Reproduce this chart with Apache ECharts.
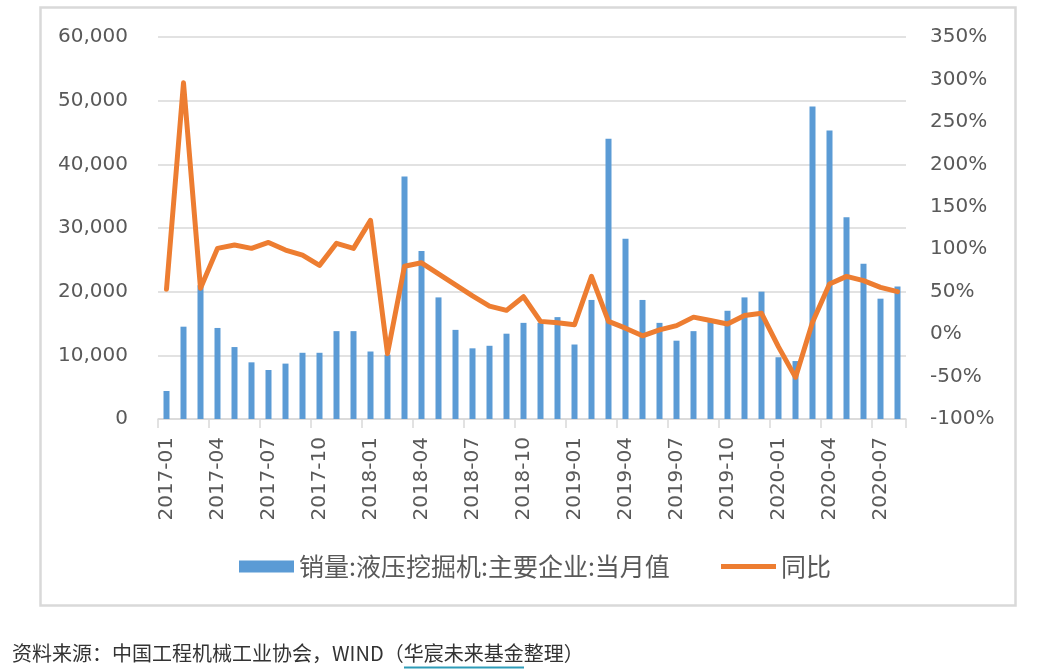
<!DOCTYPE html>
<html>
<head>
<meta charset="utf-8">
<script src="https://cdn.jsdelivr.net/npm/echarts@6/dist/echarts.min.js"></script>
<style>
html,body{margin:0;padding:0;background:#fff;}
#chart{width:1040px;height:669px;}
</style>
</head>
<body>
<div id="chart"></div>
<script>
var categories = ['2017-01','2017-02','2017-03','2017-04','2017-05','2017-06','2017-07','2017-08','2017-09','2017-10','2017-11','2017-12',
'2018-01','2018-02','2018-03','2018-04','2018-05','2018-06','2018-07','2018-08','2018-09','2018-10','2018-11','2018-12',
'2019-01','2019-02','2019-03','2019-04','2019-05','2019-06','2019-07','2019-08','2019-09','2019-10','2019-11','2019-12',
'2020-01','2020-02','2020-03','2020-04','2020-05','2020-06','2020-07','2020-08'];
var sales = [4400,14500,21000,14300,11300,8900,7700,8700,10400,10400,13800,13800,
10600,10100,38100,26400,19100,14000,11100,11500,13400,15100,15100,16000,
11700,18700,44000,28300,18700,15100,12300,13800,15400,17000,19100,20000,
9700,9100,49100,45300,31700,24400,18900,20800];
var yoy = [53,296,54,101,105,101,108,99,93,81,107,101,
134,-23,80,84,71,58,45,33,28,44,15,13.5,
11,68,15,7,-2,5,10,20,16,12,22,24.5,
-15,-51,14,59,68,63,55,50];
var seriesNames = ['销量:液压挖掘机:主要企业:当月值','同比'];
var sourceText = '资料来源：中国工程机械工业协会，WIND（华宸未来基金整理）';

var chart = echarts.init(document.getElementById('chart'));
var axisFont = {color:'#595959', fontSize:20, fontFamily:'DejaVu Sans'};
chart.setOption({
  animation:false,
  backgroundColor:'#fff',
  grid:{left:158, right:134, top:37, bottom:250},
  legend:[{
    data:[seriesNames[0]], left:234, top:549, itemWidth:55, itemHeight:12, icon:'rect',
    textStyle:{color:'#595959', fontSize:25, fontFamily:'Noto Sans CJK SC'}, itemGap:10
  },{
    data:[seriesNames[1]], left:716, top:549, itemWidth:55, itemHeight:5, icon:'rect',
    textStyle:{color:'#595959', fontSize:25, fontFamily:'Noto Sans CJK SC'}
  }],
  xAxis:{
    type:'category', data:categories, boundaryGap:true,
    axisLine:{lineStyle:{color:'#d9d9d9', width:1.5}},
    axisTick:{show:true, interval:2, length:9, lineStyle:{color:'#d9d9d9', width:1.5}},
    axisLabel:Object.assign({interval:2, rotate:90, margin:18}, axisFont)
  },
  yAxis:[{
    type:'value', min:0, max:60000, interval:10000,
    axisLine:{show:false}, axisTick:{show:false},
    splitLine:{lineStyle:{color:'#d9d9d9', width:1.5}},
    axisLabel:Object.assign({margin:30, formatter:function(v){return v.toLocaleString('en-US');}}, axisFont)
  },{
    type:'value', min:-100, max:350, interval:50,
    axisLine:{show:false}, axisTick:{show:false}, splitLine:{show:false},
    axisLabel:Object.assign({margin:24, formatter:'{value}%'}, axisFont)
  }],
  series:[{
    name:seriesNames[0], type:'bar', data:sales, barWidth:6,
    itemStyle:{color:'#5B9BD5'}
  },{
    name:seriesNames[1], type:'line', yAxisIndex:1, data:yoy,
    symbol:'none', smooth:false,
    lineStyle:{color:'#ED7D31', width:5, join:'round', cap:'round'},
    itemStyle:{color:'#ED7D31'}
  }],
  graphic:[{
    type:'rect', left:38, top:5, shape:{width:975, height:598},
    style:{fill:'none', stroke:'#d9d9d9', lineWidth:2.5}, silent:true
  },{
    type:'text', left:12, top:643,
    style:{text:sourceText, fill:'#333', fontSize:20, fontFamily:'Noto Sans CJK SC'}
  },{
    type:'line', shape:{x1:404, y1:667.5, x2:524, y2:667.5},
    style:{stroke:'#2e9cb8', lineWidth:2}
  }]
});
</script>
</body>
</html>
